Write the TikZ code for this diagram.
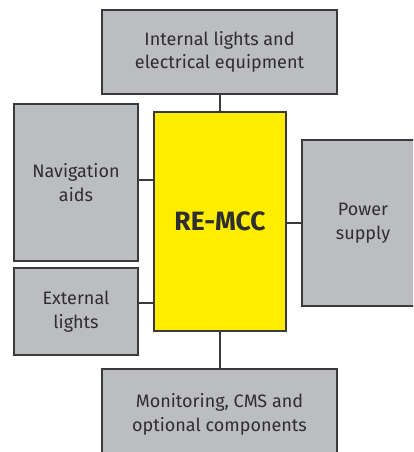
\documentclass[tikz,border=0pt]{standalone}
\usepackage{fontspec}
\setmainfont{Fira Sans}
\begin{document}
\begin{tikzpicture}[x=1pt,y=-1pt,
  box/.style={draw=edgegray, line width=1.4pt, fill=boxgray, text=txtgray, align=center, inner sep=0pt,
    font=\fontsize{18}{23.5}\selectfont},
  core/.style={box, fill=coreyellow, font=\fontsize{26.5}{28}\selectfont\bfseries},
  link/.style={draw=edgegray, line width=1.4pt}]
\definecolor{boxgray}{HTML}{BCBDC0}
\definecolor{coreyellow}{HTML}{FFED00}
\definecolor{edgegray}{HTML}{3A3A3C}
\definecolor{txtgray}{HTML}{2E2E30}
\useasboundingbox (0,0) rectangle (413,452);
\clip (0,0) rectangle (413,452);
\node[box, minimum width=235pt, minimum height=84pt] (top) at (219.5,52) {Internal lights and\\electrical equipment};
\node[core, minimum width=132pt, minimum height=219pt] (mcc) at (220,221.5) {RE-MCC};
\node[box, minimum width=124pt, minimum height=157pt] (nav) at (76,182.5) {Navigation\\aids};
\node[box, minimum width=124pt, minimum height=87pt] (ext) at (76,311.5) {External\\lights};
\node[box, minimum width=122pt, minimum height=166pt] (pow) at (363,223) {Power\\supply};
\node[box, minimum width=235pt, minimum height=91pt] (bot) at (219.5,414.5) {Monitoring, CMS and\\optional components};
\draw[link] (top.south -| mcc.north) -- (mcc.north);
\draw[link] (mcc.south) -- (mcc.south |- bot.north);
\draw[link] ([yshift=2.5pt]nav.east) -- ([yshift=2.5pt]nav.east -| mcc.west);
\draw[link] ([yshift=8.5pt]ext.east) -- ([yshift=8.5pt]ext.east -| mcc.west);
\draw[link] (pow.west) -- (pow.west -| mcc.east);
\end{tikzpicture}
\end{document}
